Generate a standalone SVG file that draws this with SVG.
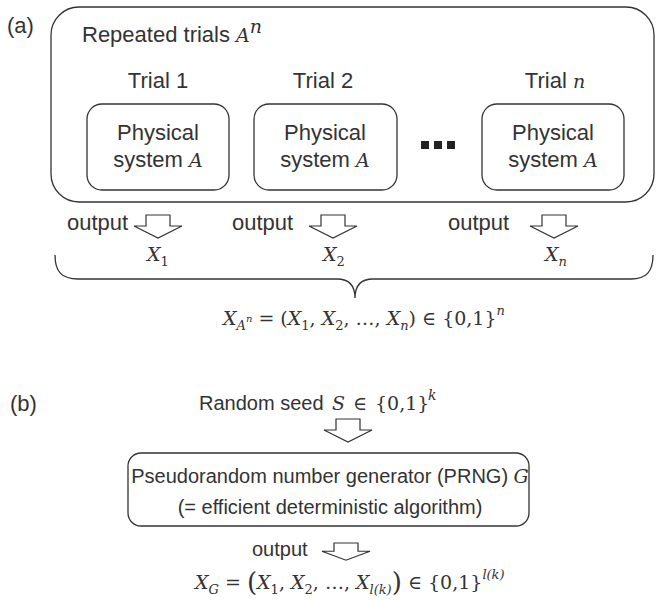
<svg xmlns="http://www.w3.org/2000/svg" width="657" height="601" viewBox="0 0 657 601">
<style>
  .t { font-family: "Liberation Sans", Arial, sans-serif; font-size: 22px; fill: #333; }
  .tb { font-family: "Liberation Sans", Arial, sans-serif; font-size: 20px; fill: #333; }
  .m { font-family: "DejaVu Serif", "Liberation Serif", serif; font-size: 19px; fill: #333; }
  .i { font-style: italic; }
  .box { fill: #fff; stroke: #333; stroke-width: 1.3; }
  .ln { fill: none; stroke: #333; stroke-width: 1.3; }
  .arr { fill: #fff; stroke: #333; stroke-width: 1.2; stroke-linejoin: miter; }
</style>
<defs>
  <path id="blk" d="M-12,0 H12 V11 H24 L0,23 L-24,11 H-12 Z"/>
</defs>
<rect width="657" height="601" fill="#fff"/>

<text class="t" x="7" y="33" font-size="23">(a)</text>
<g id="repeated">
  <rect class="box" x="51" y="7" width="603" height="195" rx="28"/>
  <text class="t" x="82" y="42">Repeated trials <tspan class="m i">A</tspan><tspan class="m i" font-size="14" y="33">n</tspan></text>
</g>

<g id="trial1">
  <text class="t" x="158" y="88" text-anchor="middle">Trial 1</text>
  <rect class="box" x="87" y="104" width="142" height="86" rx="15"/>
  <text class="t" x="158" y="140" text-anchor="middle">Physical</text>
  <text class="t" x="158" y="167" text-anchor="middle">system <tspan class="m i">A</tspan></text>
</g>
<g id="trial2">
  <text class="t" x="323" y="88" text-anchor="middle">Trial 2</text>
  <rect class="box" x="254" y="104" width="143" height="86" rx="15"/>
  <text class="t" x="325" y="140" text-anchor="middle">Physical</text>
  <text class="t" x="325" y="167" text-anchor="middle">system <tspan class="m i">A</tspan></text>
</g>
<g id="dots" fill="#222">
  <rect x="421" y="141" width="8" height="8"/>
  <rect x="434" y="141" width="8" height="8"/>
  <rect x="447" y="141" width="8" height="8"/>
</g>
<g id="trialn">
  <text class="t" x="555" y="88" text-anchor="middle">Trial <tspan class="m i">n</tspan></text>
  <rect class="box" x="482" y="104" width="142" height="86" rx="15"/>
  <text class="t" x="553" y="140" text-anchor="middle">Physical</text>
  <text class="t" x="553" y="167" text-anchor="middle">system <tspan class="m i">A</tspan></text>
</g>

<g id="outputs-a">
  <text class="t" x="67" y="230">output</text>
  <text class="t" x="232" y="230">output</text>
  <text class="t" x="448" y="230">output</text>
  <text class="m" x="147" y="261"><tspan class="i">X</tspan><tspan font-size="13" y="266">1</tspan></text>
  <text class="m" x="323" y="261"><tspan class="i">X</tspan><tspan font-size="13" y="266">2</tspan></text>
  <text class="m" x="545" y="261"><tspan class="i">X</tspan><tspan class="i" font-size="13" y="266">n</tspan></text>
</g>

<g id="connectors">
  <use href="#blk" class="arr" x="158" y="215"/>
  <use href="#blk" class="arr" x="333" y="215"/>
  <use href="#blk" class="arr" x="554" y="215"/>
  <path class="ln" d="M55,255 C55,272 62,279 78,279 H337 C349,279 355,286 355,298 C355,286 361,279 373,279 H631 C646,279 653,272 653,255"/>
  <use href="#blk" class="arr" x="348" y="419"/>
  <use href="#blk" class="arr" x="346" y="543" transform="translate(346 543) scale(1 0.75) translate(-346 -543)"/>
</g>

<g id="xan">
  <text class="m" x="223" y="325"><tspan class="i">X</tspan><tspan class="i" font-size="13" y="330">A</tspan><tspan class="i" font-size="10" y="322">n</tspan><tspan y="325"> = (</tspan><tspan class="i">X</tspan><tspan font-size="13" y="330">1</tspan><tspan y="325">, </tspan><tspan class="i">X</tspan><tspan font-size="13" y="330">2</tspan><tspan y="325">, …, </tspan><tspan class="i">X</tspan><tspan class="i" font-size="13" y="330">n</tspan><tspan y="325">) ∈ {0,1}</tspan><tspan class="i" font-size="13" y="315">n</tspan></text>
</g>

<text class="t" x="10" y="411" font-size="23">(b)</text>
<g id="seed">
  <text class="tb" x="199" y="410" font-size="21">Random seed</text>
  <text class="m" y="410" font-size="20"><tspan class="i" x="332">S</tspan><tspan x="353">∈</tspan><tspan x="375">{0,1}</tspan><tspan class="i" font-size="14" x="428" y="400">k</tspan></text>
</g>

<g id="prng">
  <rect class="box" x="128" y="453" width="401" height="73" rx="13"/>
  <text class="tb" x="330" y="483" text-anchor="middle">Pseudorandom number generator (PRNG) <tspan class="m i">G</tspan></text>
  <text class="tb" x="330" y="514" text-anchor="middle">(= efficient deterministic algorithm)</text>
</g>

<text class="tb" x="252" y="556">output</text>

<g id="xg">
  <text class="m" x="195" y="589" font-size="20"><tspan class="i">X</tspan><tspan class="i" font-size="13" y="594">G</tspan><tspan y="589"> = </tspan><tspan font-size="26" y="591">(</tspan><tspan class="i" y="589">X</tspan><tspan font-size="13" y="594">1</tspan><tspan y="589">, </tspan><tspan class="i">X</tspan><tspan font-size="13" y="594">2</tspan><tspan y="589">, …, </tspan><tspan class="i">X</tspan><tspan class="i" font-size="13" y="594">l(k)</tspan><tspan font-size="26" y="591">)</tspan><tspan y="589"> ∈ {0,1}</tspan><tspan class="i" font-size="13" y="579">l(k)</tspan></text>
</g>
</svg>
